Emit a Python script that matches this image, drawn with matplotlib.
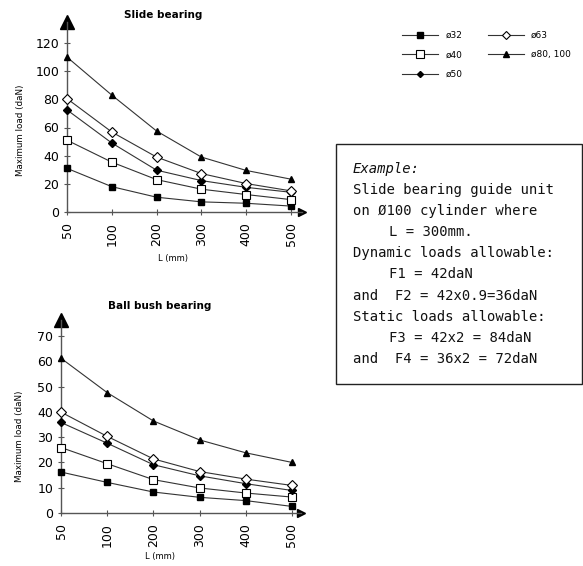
import matplotlib
matplotlib.use("Agg")
import matplotlib.pyplot as plt
from matplotlib.patches import Rectangle

lengths = ["50", "100", "200", "300", "400", "500"]
series_names = ["ø32", "ø40", "ø50", "ø63", "ø80, 100"]

slide_32 = [31, 18, 10.5, 7.2, 6.2, 4.2]
slide_40 = [51, 35.4, 23, 16.2, 12.4, 8.8]
slide_50 = [72.5, 49, 29.7, 22.3, 17.5, 14]
slide_63 = [80.5, 56.8, 39, 27.3, 20.2, 15]
slide_80 = [110, 83, 57.5, 39, 29.5, 23.3]

ball_32 = [16.2, 12.1, 8.3, 6.2, 4.9, 2.6]
ball_40 = [25.9, 19.5, 13.2, 9.9, 7.9, 6.3]
ball_50 = [35.8, 27.6, 19.1, 14.7, 11.6, 8.9]
ball_63 = [39.9, 30.3, 21.4, 16.4, 13.4, 10.9]
ball_80 = [61.2, 47.6, 36.4, 28.9, 23.8, 20.0]

slide_yticks = [0, 20, 40, 60, 80, 100, 120]
ball_yticks = [0, 10, 20, 30, 40, 50, 60, 70]

example_lines = [
    ("Example:", 0, True),
    ("Slide bearing guide unit", 0, False),
    ("on Ø100 cylinder where", 0, False),
    ("L = 300mm.", 1, False),
    ("Dynamic loads allowable:", 0, False),
    ("F1 = 42daN", 1, False),
    ("and  F2 = 42x0.9=36daN", 0, False),
    ("Static loads allowable:", 0, False),
    ("F3 = 42x2 = 84daN", 1, False),
    ("and  F4 = 36x2 = 72daN", 0, False),
]

W, H = 583, 566
fig = plt.figure(figsize=(W / 100, H / 100), dpi=100)

LC = "#333333"
styles = [
    dict(marker="s", markersize=5.0, markerfacecolor="black", markeredgecolor="black"),
    dict(marker="s", markersize=6.2, markerfacecolor="white", markeredgecolor="black", markeredgewidth=0.8),
    dict(marker="D", markersize=3.6, markerfacecolor="black", markeredgecolor="black"),
    dict(marker="D", markersize=5.0, markerfacecolor="white", markeredgecolor="black", markeredgewidth=0.8),
    dict(marker="^", markersize=5.0, markerfacecolor="black", markeredgecolor="black"),
]


def fx(px):
    return px / W


def fy(py):
    return 1 - py / H


def make_axes(rect, data, ylim, xlim, yticks, title, title_xy, ylabel_xy, xlabel_xy):
    ax = fig.add_axes(rect)
    x = list(range(len(lengths)))
    handles = []
    for vals, st in zip(data, styles):
        h, = ax.plot(x, vals, color=LC, linewidth=0.8, clip_on=False, zorder=3, **st)
        handles.append(h)
    ax.set_xlim(*xlim)
    ax.set_ylim(*ylim)
    ax.set_xticks(x)
    ax.set_xticklabels(lengths, rotation=90, fontsize=9, family="DejaVu Sans")
    ax.set_yticks(yticks)
    ax.set_yticklabels([str(v) for v in yticks], fontsize=9, family="DejaVu Sans")
    for s in ["top", "right"]:
        ax.spines[s].set_visible(False)
    for s in ["left", "bottom"]:
        ax.spines[s].set_color("#555555")
        ax.spines[s].set_linewidth(1.0)
    ax.tick_params(direction="inout", length=5, width=0.8, color="#555555", pad=3)
    ax.tick_params(axis="x", pad=5)
    ax.patch.set_alpha(0)
    ax.plot([0], [1], marker="^", markersize=10, color="black",
            transform=ax.get_xaxis_transform(), clip_on=False)
    ax.plot([1], [0], marker=">", markersize=6, color="black",
            transform=ax.get_yaxis_transform(), clip_on=False)
    fig.text(fx(title_xy[0]), fy(title_xy[1]), title, fontsize=7.5, fontweight="bold",
             ha="center", va="center")
    fig.text(fx(ylabel_xy[0]), fy(ylabel_xy[1]), "Maximum load (daN)", fontsize=6.3,
             rotation=90, ha="center", va="center")
    fig.text(fx(xlabel_xy[0]), fy(xlabel_xy[1]), "L (mm)", fontsize=6,
             ha="center", va="center")
    return handles


top_rect = [fx(67), fy(212), 5.25 * 44.8 / W, (212 - 22) / H]
handles = make_axes(top_rect, [slide_32, slide_40, slide_50, slide_63, slide_80],
                    (0, 190 / (169 / 120)), (0, 5.25), slide_yticks, "Slide bearing",
                    (163, 15), (21, 130), (173, 258))

bot_rect = [fx(61), fy(513), 5.2 * 46.2 / W, (513 - 320) / H]
make_axes(bot_rect, [ball_32, ball_40, ball_50, ball_63, ball_80],
          (0, 193 / (177 / 70)), (0, 5.2), ball_yticks, "Ball bush bearing",
          (160, 306), (20, 436), (160, 557))

fig.legend(handles, series_names, loc="upper left", bbox_to_anchor=(fx(402), fy(31)),
           ncol=2, frameon=False, fontsize=6.5, handlelength=4.0, handletextpad=0.8,
           columnspacing=2.8, labelspacing=1.15, borderpad=0, borderaxespad=0,
           markerscale=0.85)

fig.patches.append(Rectangle((fx(336), fy(384)), (582 - 336) / W, (384 - 144) / H,
                             transform=fig.transFigure, fill=False,
                             edgecolor="#222222", linewidth=1.0))
y0, dy = 169, 21.1
for i, (txt, indent, ital) in enumerate(example_lines):
    xx = 353 + (36 if indent else 0)
    fig.text(fx(xx), fy(y0 + i * dy), txt, fontsize=10, ha="left", va="center",
             style="italic" if ital else "normal", color="#111111",
             family="DejaVu Sans Mono")

fig.savefig("out.png", dpi=100)
